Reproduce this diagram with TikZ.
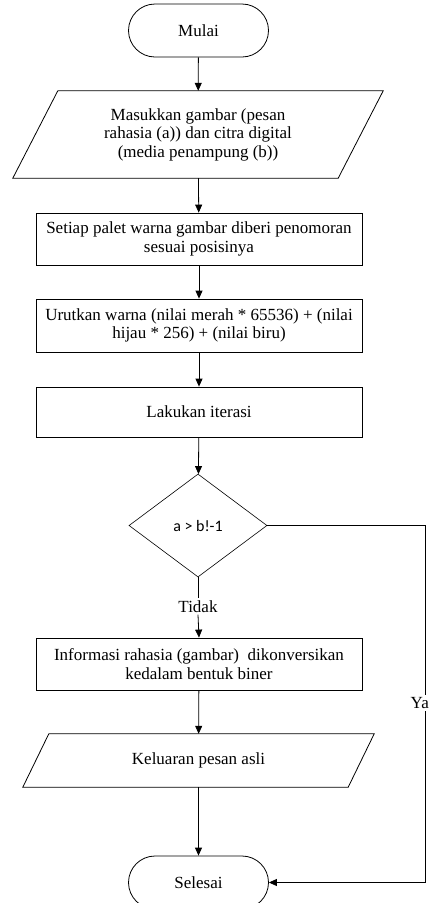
\documentclass[tikz,border=0pt]{standalone}
\usepackage{fontspec}
\setmainfont{Liberation Serif}
\newfontfamily\diafont{Carlito}
\usetikzlibrary{shapes.geometric,shapes.misc,arrows.meta,calc}
\begin{document}
\begin{tikzpicture}[x=1pt,y=-1pt,
  every node/.style={font=\fontsize{17}{18.5}\selectfont, align=center, inner sep=0pt},
  term/.style={rounded rectangle, draw, line width=0.8pt, minimum width=140pt, minimum height=53pt},
  proc/.style={rectangle, draw, line width=0.8pt, minimum width=326pt},
  iobody/.style={rectangle, draw=none},
  dec/.style={diamond, draw, line width=0.6pt, minimum width=138pt, minimum height=103pt, font=\diafont\fontsize{16}{18}\selectfont},
  lbl/.style={fill=white, inner sep=2pt},
  arr/.style={line width=0.8pt, -{Triangle[length=8pt,width=7pt]}},
  ln/.style={line width=0.8pt}
]
\useasboundingbox (0,0) rectangle (430,903);
\begin{scope}
\clip (0,0) rectangle (430,903);
\node[term] (start) at (198.5,30.5) {Mulai};
\node[iobody, minimum width=370pt, minimum height=87pt] (in1) at (198,134.5) {Masukkan gambar (pesan\\rahasia (a)) dan citra digital\\(media penampung (b))};
\draw[ln] ($(in1.north west)+(45,0)$) -- (in1.north east) -- ($(in1.south east)-(45,0)$) -- (in1.south west) -- cycle;
\node[proc, minimum height=52pt] (p1) at (199,239) {Setiap palet warna gambar diberi penomoran\\sesuai posisinya};
\node[proc, minimum height=53pt] (p2) at (199,325.5) {Urutkan warna (nilai merah * 65536) + (nilai\\hijau * 256) + (nilai biru)};
\node[proc, minimum height=50pt] (p3) at (199,412) {Lakukan iterasi};
\node[dec] (d) at (198,525.5) {a > b!-1};
\node[lbl] (tidak) at (198,606.5) {Tidak};
\node[proc, minimum height=52pt] (p4) at (199,664) {Informasi rahasia (gambar)\ \ dikonversikan\\kedalam bentuk biner};
\node[iobody, minimum width=351pt, minimum height=53pt] (out) at (198.5,760.5) {Keluaran pesan asli};
\draw[ln] ($(out.north west)+(26,0)$) -- (out.north east) -- ($(out.south east)-(26,0)$) -- (out.south west) -- cycle;
\node[term] (end) at (198.5,882.5) {Selesai};
\coordinate (c1) at (425,525.5);
\coordinate (c2) at (425,882.5);
\draw[arr] (start) -- (in1);
\draw[arr] (in1) -- (p1);
\draw[arr] (p1) -- (p2);
\draw[arr] (p2) -- (p3);
\draw[arr] (p3) -- (d);
\draw[ln] (d.south) -- (tidak.north);
\draw[arr] (tidak.south) -- (p4.north);
\draw[arr] (p4) -- (out);
\draw[arr] (out) -- (end);
\draw[arr] (d.east) -- (c1) -- (c2) -- (end.east);
\node[lbl, anchor=east, inner xsep=1pt] (ya) at (430,703) {Ya};
\end{scope}
\end{tikzpicture}
\end{document}
